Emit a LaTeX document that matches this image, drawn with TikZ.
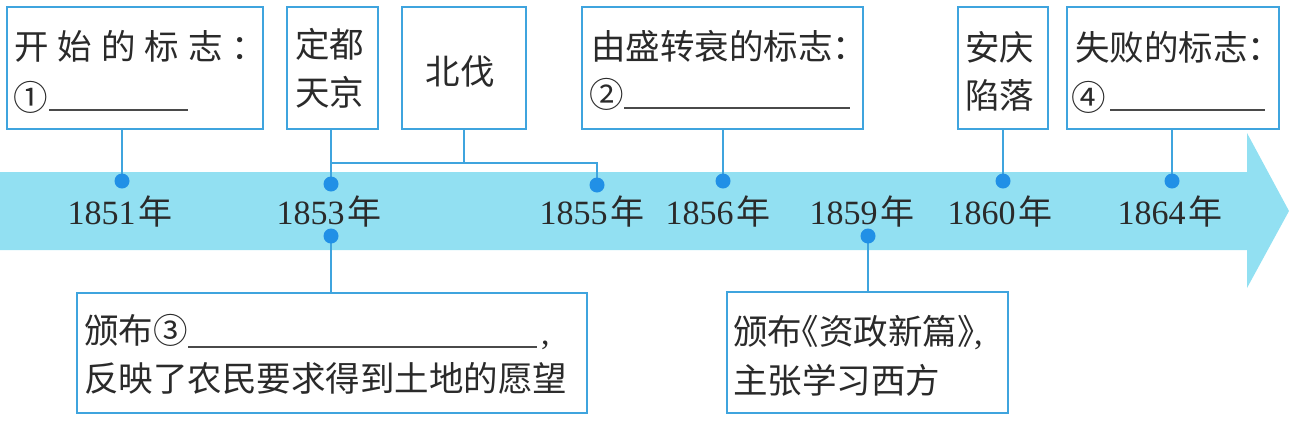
\documentclass[tikz,border=0pt]{standalone}
\usepackage{fontspec}
\setmainfont{Liberation Serif}
\newfontfamily\cjk{Noto Sans CJK SC}
\definecolor{bandc}{HTML}{92E0F2}
\definecolor{linec}{HTML}{3FA4DE}
\definecolor{dotc}{HTML}{2190E6}
\definecolor{txt}{HTML}{2A2A2A}
\begin{document}
\begin{tikzpicture}[x=1pt,y=-1pt,
  box/.style={draw=linec, line width=2pt, fill=white, inner sep=0pt, outer sep=0pt, anchor=north west},
  conn/.style={draw=linec, line width=2pt},
  dotn/.style={circle, fill=dotc, inner sep=0pt, minimum size=15pt},
  yr/.style={font=\fontsize{34}{40}\selectfont, text=txt, inner sep=0pt},
  lbl/.style={font=\cjk\fontsize{34.5}{40}\selectfont, text=txt, inner sep=0pt, anchor=west},
  uline/.style={draw=txt!85, line width=1.1pt}]
\useasboundingbox (0,0) rectangle (1290,421);
% band arrow
\fill[bandc] (0,172) -- (1247,172) -- (1247,133) -- (1289,211) -- (1247,288) -- (1247,250) -- (0,250) -- cycle;
% boxes
\node[box, minimum width=256, minimum height=122] (b1) at (7,7) {};
\node[box, minimum width=91,  minimum height=122] (b2) at (287,7) {};
\node[box, minimum width=124, minimum height=122] (b3) at (402,7) {};
\node[box, minimum width=281, minimum height=122] (b4) at (582,7) {};
\node[box, minimum width=90,  minimum height=122] (b5) at (958,7) {};
\node[box, minimum width=212, minimum height=122] (b6) at (1067,7) {};
\node[box, minimum width=510, minimum height=120] (b7) at (77,293) {};
\node[box, minimum width=281, minimum height=121] (b8) at (727,292) {};
% dots
\coordinate (p1) at (122,181);
\coordinate (p2) at (331,184);
\coordinate (p3) at (597,185);
\coordinate (p4) at (723,181);
\coordinate (p5) at (1003,181);
\coordinate (p6) at (1172,181);
\coordinate (q2) at (331,236);
\coordinate (q5) at (868,236);
\coordinate (j) at (331,163);
% connectors
\draw[conn] (p1|-b1.south) -- (p1);
\draw[conn] (p2|-b2.south) -- (p2);
\draw[conn] (j) -- (p3|-j) -- (p3);
\draw[conn] (b3.south) -- (b3.south|-j);
\draw[conn] (p4|-b4.south) -- (p4);
\draw[conn] (p5|-b5.south) -- (p5);
\draw[conn] (p6|-b6.south) -- (p6);
\draw[conn] (q2) -- (q2|-b7.north);
\draw[conn] (q5) -- (q5|-b8.north);
\foreach \n in {p1,p2,p3,p4,p5,p6,q2,q5} \node[dotn] (d\n) at (\n) {};
% years
\node[yr] (y1) at (120,212) {1851\hspace{3pt}{\cjk 年}};
\node[yr] (y2) at (329,212) {1853\hspace{3pt}{\cjk 年}};
\node[yr] (y3) at (592,212) {1855\hspace{3pt}{\cjk 年}};
\node[yr] (y4) at (718,212) {1856\hspace{3pt}{\cjk 年}};
\node[yr] (y5) at (862,212) {1859\hspace{3pt}{\cjk 年}};
\node[yr] (y6) at (1000,212) {1860\hspace{3pt}{\cjk 年}};
\node[yr] (y7) at (1170,212) {1864\hspace{3pt}{\cjk 年}};
% box texts
\node[lbl] (t1a) at (14,46) {开\hspace{9pt}始\hspace{9pt}的\hspace{9pt}标\hspace{9pt}志\hspace{9pt}：};
\node[lbl] (t1b) at (13,97) {①};
\draw[uline] (49,110) -- (188,110);
\node[lbl] (t2a) at (295,44) {定都};
\node[lbl] (t2b) at (295,92) {天京};
\node[lbl, anchor=center] (t3) at (460,71) {北伐};
\node[lbl] (t4a) at (591,46) {由盛转衰的标志：};
\node[lbl] (t4b) at (589,94) {②};
\draw[uline] (624,108) -- (850,108);
\node[lbl] (t5a) at (965,47) {安庆};
\node[lbl] (t5b) at (965,95) {陷落};
\node[lbl] (t6a) at (1075,47) {失败的标志：};
\node[lbl] (t6b) at (1071,97) {④};
\draw[uline] (1110,110) -- (1265,110);
\node[lbl] (t7a) at (84,330) {颁布③};
\draw[uline] (188,347) -- (537,347);
\node[yr, anchor=base west] (t7c) at (541,344) {,};
\node[lbl] (t7b) at (84,378) {反映了农民要求得到土地的愿望};
\node[lbl] (t8a) at (733,333) {颁布\makebox[17pt][r]{《}资政新篇\makebox[17pt][l]{》}{\rmfamily ,}};
\node[lbl] (t8b) at (733,380) {主张学习西方};
\end{tikzpicture}
\end{document}
